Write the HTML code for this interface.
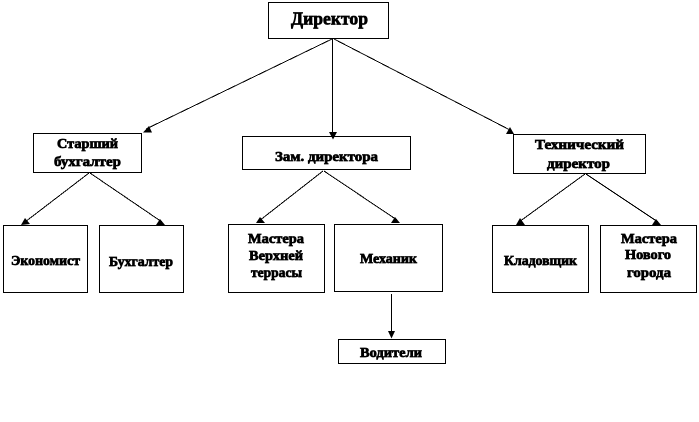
<!DOCTYPE html>
<html><head><meta charset="utf-8">
<style>
html,body{margin:0;padding:0;background:#fff;width:699px;height:422px;overflow:hidden}
svg{display:block}
rect{fill:#fff;stroke:#000;stroke-width:1;shape-rendering:crispEdges}
line{stroke:#000;stroke-width:1;shape-rendering:crispEdges}
polygon{fill:#000}
text{font-family:"Liberation Serif","Noto Serif CJK SC",serif;font-weight:bold;font-size:14px;fill:#000;stroke:#000;stroke-width:.7px;text-anchor:middle}
</style></head><body>
<svg width="699" height="422" viewBox="0 0 699 422" xmlns="http://www.w3.org/2000/svg">
<rect x="268.5" y="2.5" width="120" height="36"/>
<rect x="33.5" y="133.5" width="108" height="39"/>
<rect x="242.5" y="136.5" width="168" height="33"/>
<rect x="513.5" y="134.5" width="132" height="39"/>
<rect x="3.5" y="225.5" width="84" height="67"/>
<rect x="99.5" y="225.5" width="84" height="67"/>
<rect x="228.5" y="224.5" width="96" height="68"/>
<rect x="334.5" y="224.5" width="108" height="67"/>
<rect x="338.5" y="339.5" width="107" height="24"/>
<rect x="492.5" y="225.5" width="96" height="67"/>
<rect x="600.5" y="225.5" width="96" height="67"/>

<line x1="332" y1="39" x2="146" y2="129"/>
<polygon points="143,132.5 152,132.5 149,126"/>
<line x1="332.5" y1="39" x2="332.5" y2="133"/>
<polygon points="329,132 337,132 333,139.5"/>
<line x1="334" y1="39" x2="510" y2="130"/>
<polygon points="514,134 506,134 510,127"/>

<line x1="89" y1="173" x2="25" y2="222"/>
<polygon points="21,225 30,224 25,218"/>
<line x1="90" y1="173" x2="162" y2="222"/>
<polygon points="165,225 156,225 160,219"/>

<line x1="323" y1="171" x2="259" y2="221"/>
<polygon points="256,223 265,223 260,217"/>
<line x1="324" y1="171" x2="397" y2="220"/>
<polygon points="400,223 391,223 395,217"/>

<line x1="585" y1="174" x2="519" y2="222"/>
<polygon points="516,225 525,225 520,218"/>
<line x1="586" y1="174" x2="658" y2="222"/>
<polygon points="661,225 652,225 656,219"/>

<line x1="391.5" y1="294" x2="391.5" y2="333"/>
<polygon points="388,331 395,331 391.5,338.5"/>

<text x="329.5" y="24.5" style="font-size:18px" textLength="77" lengthAdjust="spacingAndGlyphs">Директор</text>
<text x="87.5" y="148" textLength="61" lengthAdjust="spacingAndGlyphs">Старший</text>
<text x="87.5" y="166" textLength="67" lengthAdjust="spacingAndGlyphs">бухгалтер</text>
<text x="326.5" y="161" textLength="103" lengthAdjust="spacingAndGlyphs">Зам. директора</text>
<text x="579.5" y="149" textLength="89" lengthAdjust="spacingAndGlyphs">Технический</text>
<text x="578.5" y="168" textLength="63" lengthAdjust="spacingAndGlyphs">директор</text>
<text x="45.5" y="265" textLength="69" lengthAdjust="spacingAndGlyphs">Экономист</text>
<text x="141" y="266" textLength="64" lengthAdjust="spacingAndGlyphs">Бухгалтер</text>
<text x="276" y="243" textLength="56" lengthAdjust="spacingAndGlyphs">Мастера</text>
<text x="276" y="260" textLength="54" lengthAdjust="spacingAndGlyphs">Верхней</text>
<text x="276.5" y="277" textLength="51" lengthAdjust="spacingAndGlyphs">террасы</text>
<text x="388.5" y="263" textLength="57" lengthAdjust="spacingAndGlyphs">Механик</text>
<text x="391" y="357" textLength="62" lengthAdjust="spacingAndGlyphs">Водители</text>
<text x="540.5" y="265" textLength="73" lengthAdjust="spacingAndGlyphs">Кладовщик</text>
<text x="649" y="243" textLength="56" lengthAdjust="spacingAndGlyphs">Мастера</text>
<text x="648" y="259" textLength="46" lengthAdjust="spacingAndGlyphs">Нового</text>
<text x="649" y="277" textLength="44" lengthAdjust="spacingAndGlyphs">города</text>
</svg>
</body></html>
